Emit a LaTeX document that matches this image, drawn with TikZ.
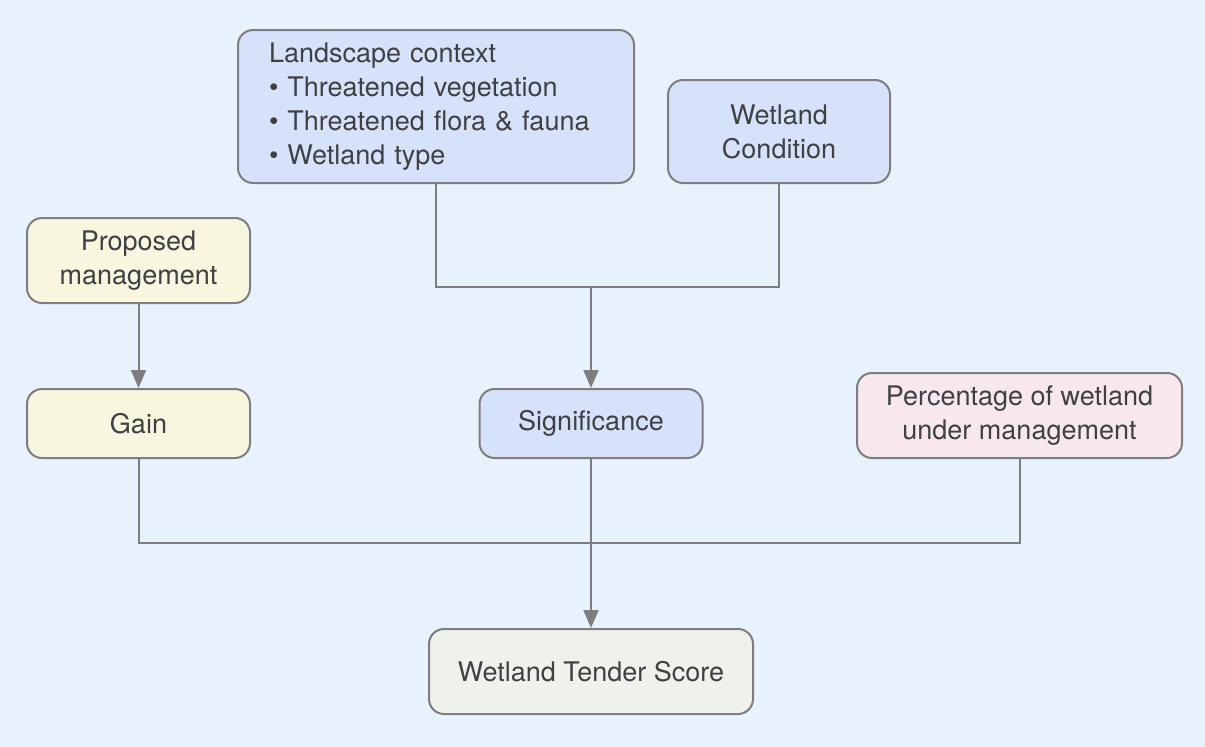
\documentclass[tikz,border=0pt]{standalone}
\usepackage{fontspec}
\setmainfont{TeX Gyre Heros}
\usetikzlibrary{arrows.meta}
\definecolor{bgc}{HTML}{E8F2FC}
\definecolor{linec}{HTML}{7E7E80}
\definecolor{txtc}{HTML}{3E4044}
\definecolor{bluef}{HTML}{D6E2FA}
\definecolor{yelf}{HTML}{F8F6DE}
\definecolor{pinkf}{HTML}{F8E8EE}
\definecolor{greenf}{HTML}{EEF2EA}
\tikzset{
  box/.style={draw=linec, line width=2pt, rounded corners=15pt, text=txtc,
    font=\fontsize{27}{34}\selectfont, align=center, inner sep=0pt},
  conn/.style={draw=linec, line width=2pt},
  arr/.style={conn, -{Triangle[length=18pt,width=15pt]}},
}
\begin{document}
\begin{tikzpicture}[x=1pt,y=-1pt]
\fill[bgc] (0,0) rectangle (1205,747);
\useasboundingbox (0,0) rectangle (1205,747);

\node[box, fill=bluef, minimum width=396pt, minimum height=153pt, text width=334pt, align=left]
  (land) at (436,106.5) {\raisebox{-4pt}{\parbox{334pt}{Landscape context\\ • Threatened vegetation\\ • Threatened flora \& fauna\\ • Wetland type}}};
\node[box, fill=bluef, minimum width=222pt, minimum height=103pt] (cond) at (779,131.5) {Wetland\\ Condition};
\node[box, fill=yelf, minimum width=223pt, minimum height=85pt] (prop) at (138.5,260.5) {Proposed\\ management};
\node[box, fill=yelf, minimum width=223pt, minimum height=69pt] (gain) at (138.5,423.5) {Gain};
\node[box, fill=bluef, minimum width=223pt, minimum height=69pt] (sig) at (591,423.5) {\raisebox{-3pt}{Significance}};
\node[box, fill=pinkf, minimum width=325pt, minimum height=85pt] (pct) at (1019.5,415.5) {Percentage of wetland\\ under management};
\node[box, fill=greenf, minimum width=324pt, minimum height=85pt] (score) at (591,671.5) {Wetland Tender Score};

\coordinate (j1) at (591,287);
\coordinate (j2) at (591,543);

\draw[conn] (land.south) |- (j1) -| (cond.south);
\draw[arr] (j1) -- (sig.north);
\draw[arr] (prop.south) -- (gain.north);
\draw[conn] (gain.south) |- (j2) -| (pct.south);
\draw[arr] (sig.south) -- (score.north);
\end{tikzpicture}
\end{document}
